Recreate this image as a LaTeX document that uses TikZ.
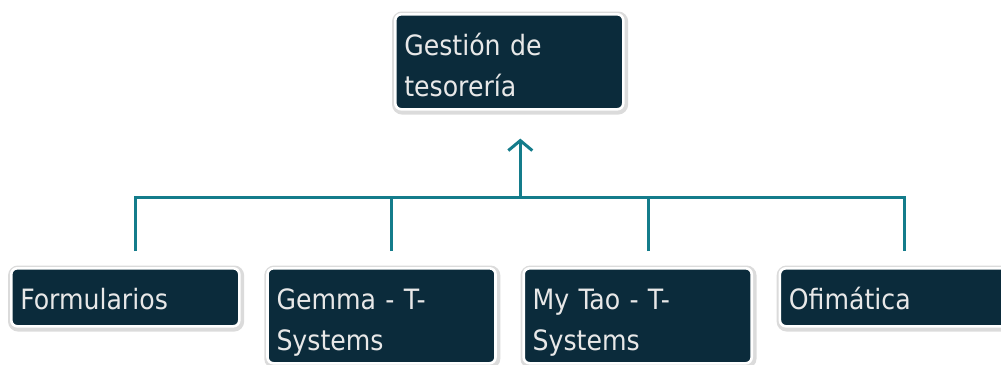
\documentclass[tikz,border=0pt]{standalone}
\usepackage{fontspec}
\setmainfont{DejaVu Sans Condensed}
\usepackage{tikz}
\usepackage{xcolor}
\usetikzlibrary{positioning,arrows.meta,calc}

\definecolor{boxnavy}{HTML}{0B2B3B}
\definecolor{linkteal}{HTML}{147C8B}
\definecolor{boxtext}{HTML}{E8E8E8}

\tikzset{
    unit/.style={rectangle,rounded corners=3pt,fill=boxnavy,draw=white,line width=1.3pt,
        text=boxtext,font=\fontsize{14pt}{20.5pt}\selectfont,align=left,
        minimum width=114pt,text width=105pt,inner xsep=4.5pt,inner ysep=8.5pt,
        text height=12pt,
        preaction={draw=black!14,line width=4pt,transform canvas={xshift=0.4pt,yshift=-0.6pt}}},
    single/.style={unit,text depth=0pt},
    double/.style={unit,text depth=18.5pt},
    link/.style={draw=linkteal,line width=1.5pt}
}

\begin{document}
\begin{tikzpicture}[x=0.5pt,y=-0.5pt]
    \useasboundingbox (0,0) rectangle (1001,364);

    % Parent box
    \node[double,anchor=north west] (top) at (394,13) {Gestión de\\tesorería};

    % Child boxes
    \node[single,anchor=north west] (form) at (10,267) {Formularios};
    \node[double,right=12.8pt of form.north east,anchor=north west] (gemma) {Gemma - T-\\Systems};
    \node[double,right=12.8pt of gemma.north east,anchor=north west] (mytao) {My Tao - T-\\Systems};
    \node[single,right=12.8pt of mytao.north east,anchor=north west] (ofim) {Ofimática};

    % Connectors
    \coordinate (hub) at (form.north -| top.south);
    \draw[link] ([xshift=5.2pt,yshift=8pt]form.north) -- ++(0,-54) -| ([xshift=5.2pt,yshift=8pt]ofim.north);
    \foreach \n in {gemma,mytao}
        \draw[link] ([xshift=5.2pt,yshift=8pt]\n.north) -- ++(0,-54);
    \draw[link,-{Straight Barb[length=5pt,width=12pt]}] ([xshift=5.5pt,yshift=35pt]hub) -- ([xshift=5.5pt,yshift=-14pt]top.south);
\end{tikzpicture}
\end{document}
